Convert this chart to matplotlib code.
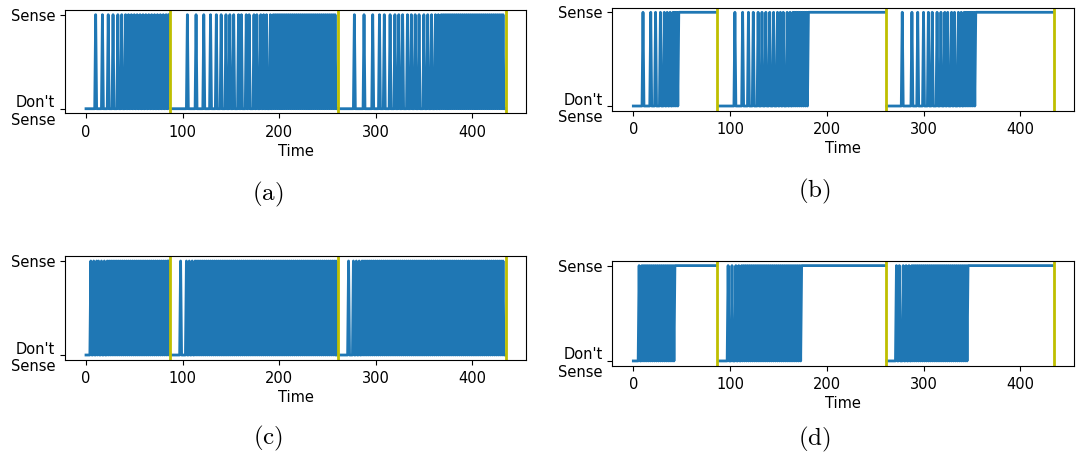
import numpy as np
import matplotlib.pyplot as plt

plt.rcParams['mathtext.fontset'] = 'cm'
plt.rcParams['font.size'] = 10.5

N_STEPS = 436
episode_ends = [87, 261, 435]

# single sensing actions (time steps where the agent senses)
a_spikes = [10, 17, 23, 28, 33, 37, 41, 44, 47, 50, 53,
            105, 114, 122, 129, 135, 140, 145, 149, 153, 158, 161, 166, 169,
            174, 177, 181, 184, 187, 191, 194,
            278, 288, 297, 304, 309, 315, 320, 324, 328, 333, 337, 341, 345,
            350, 354, 358, 362, 365, 368]
# (start, stop, every) spans of rapid on/off sensing
a_dense = [(56, 87, 3), (196, 259, 2), (370, 434, 2)]
# spans of continuous sensing
a_hold = []

b_spikes = [10, 18, 23, 28, 32, 35, 38, 41, 43, 45,
            105, 113, 119, 124, 129, 133, 137, 141, 145, 149, 152, 155, 159,
            162, 165,
            278, 288, 294, 300, 305, 309, 314, 318, 322, 325, 329, 332, 336,
            339, 342]
b_dense = [(167, 182, 2), (344, 355, 2)]
b_hold = [(47, 87), (182, 261), (355, 435)]

c_spikes = [5, 8, 11,
            98, 104, 107, 110, 113,
            272, 277, 280, 283, 286]
c_dense = [(13, 24, 3), (24, 87, 2), (115, 260, 2), (288, 433, 2)]
c_hold = []

d_spikes = [6, 9,
            98, 102, 106, 109, 112,
            272, 275, 279, 282, 285]
d_dense = [(11, 43, 2), (114, 174, 2), (288, 347, 2)]
d_hold = [(43, 87), (174, 261), (347, 435)]

ytick_labels = ["Don't\nSense", "Sense"]
captions = ['(a)', '(b)', '(c)', '(d)']


def sense_series(spikes, dense, hold):
    s = np.zeros(N_STEPS)
    s[spikes] = 1
    for start, stop, every in dense:
        s[start:stop:every] = 1
    for start, stop in hold:
        s[start:stop] = 1
    # break the line at each episode reset
    s[episode_ends] = np.nan
    return s


panels = [
    (a_spikes, a_dense, a_hold),
    (b_spikes, b_dense, b_hold),
    (c_spikes, c_dense, c_hold),
    (d_spikes, d_dense, d_hold),
]
rects = [
    [0.0603, 0.7524, 0.4271, 0.2258],
    [0.5675, 0.7583, 0.4280, 0.2251],
    [0.0603, 0.2146, 0.4271, 0.2258],
    [0.5675, 0.2015, 0.4280, 0.2290],
]
caption_pos = [(0.248, 0.576), (0.755, 0.583), (0.248, 0.043), (0.755, 0.041)]

fig = plt.figure(figsize=(10.79, 4.58), dpi=100)
t = np.arange(N_STEPS)

for (spikes, dense, hold), rect, cap, (cx, cy) in zip(panels, rects, captions, caption_pos):
    ax = fig.add_axes(rect)
    ax.plot(t, sense_series(spikes, dense, hold), color='#1f77b4', lw=2.0)
    for e in episode_ends:
        ax.axvline(e, color='y', lw=2.0)
    ax.set_yticks([0, 1])
    ax.set_yticklabels(ytick_labels)
    ax.set_xticks([0, 100, 200, 300, 400])
    ax.tick_params(axis='x', pad=4.5)
    ax.set_xlabel('Time', labelpad=3)
    fig.text(cx, cy, r'$\mathrm{' + cap + '}$', fontsize=18, ha='center', va='center')

fig.savefig('out.png', dpi=100)
